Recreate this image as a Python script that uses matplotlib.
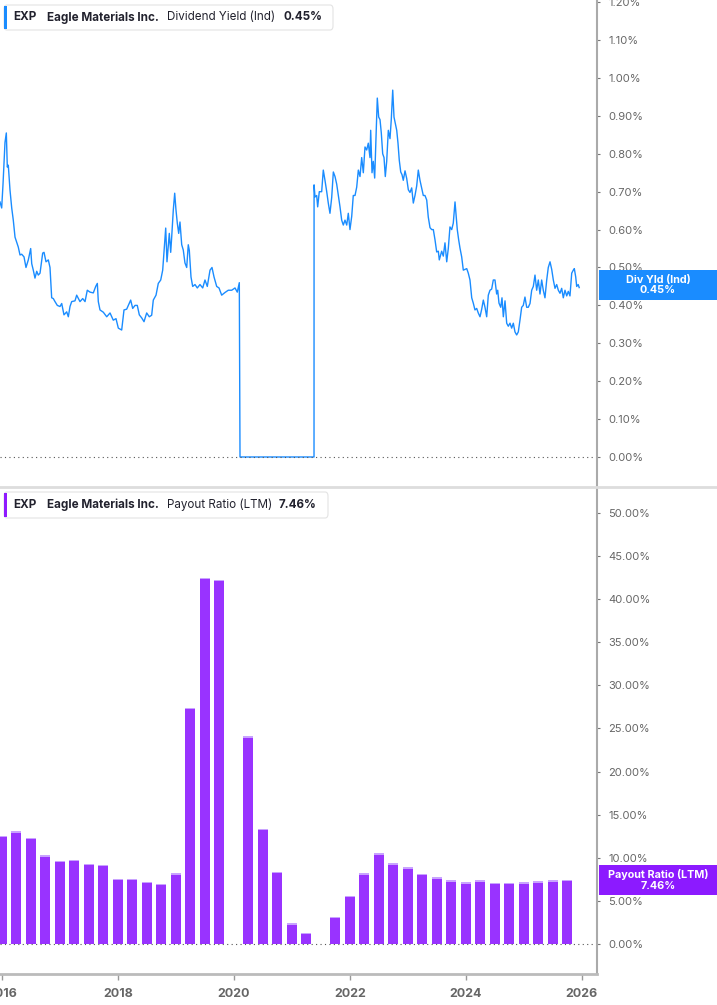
import matplotlib
matplotlib.use("Agg")
import matplotlib.pyplot as plt
from matplotlib.patches import FancyBboxPatch, Rectangle
from matplotlib.lines import Line2D
import numpy as np

plt.rcParams['font.family'] = ['Inter', 'DejaVu Sans']

# ---------------- data ----------------
dy_years = [2015.966, 2015.995, 2016.018, 2016.052, 2016.075, 2016.092, 2016.109, 2016.138, 2016.168, 2016.195,
            2016.225, 2016.254, 2016.281, 2016.311, 2016.340, 2016.380, 2016.414, 2016.454, 2016.495, 2016.513,
            2016.540, 2016.569, 2016.599, 2016.626, 2016.656, 2016.702, 2016.725, 2016.759, 2016.799, 2016.828,
            2016.857, 2016.885, 2016.914, 2016.954, 2017.000, 2017.030, 2017.069, 2017.116, 2017.144, 2017.173,
            2017.202, 2017.259, 2017.288, 2017.345, 2017.392, 2017.432, 2017.471, 2017.518, 2017.575, 2017.616,
            2017.644, 2017.661, 2017.690, 2017.747, 2017.806, 2017.863, 2017.919, 2017.966, 2018.006, 2018.064,
            2018.104, 2018.150, 2018.178, 2018.219, 2018.254, 2018.294, 2018.333, 2018.368, 2018.409, 2018.449,
            2018.495, 2018.540, 2018.581, 2018.609, 2018.656, 2018.695, 2018.737, 2018.771, 2018.799, 2018.823,
            2018.845, 2018.885, 2018.909, 2018.926, 2018.954, 2018.978, 2019.000, 2019.023, 2019.047, 2019.069,
            2019.099, 2019.126, 2019.155, 2019.185, 2019.212, 2019.230, 2019.259, 2019.288, 2019.328, 2019.368,
            2019.414, 2019.461, 2019.500, 2019.540, 2019.587, 2019.621, 2019.656, 2019.702, 2019.742, 2019.788,
            2019.845, 2019.902, 2019.961, 2020.018, 2020.057, 2020.092, 2020.104, 2021.380, 2021.381, 2021.397,
            2021.426, 2021.443, 2021.471, 2021.512, 2021.540, 2021.569, 2021.599, 2021.626, 2021.655, 2021.685,
            2021.713, 2021.742, 2021.771, 2021.799, 2021.828, 2021.857, 2021.885, 2021.914, 2021.944, 2021.971,
            2022.000, 2022.030, 2022.057, 2022.087, 2022.116, 2022.144, 2022.173, 2022.202, 2022.230, 2022.259,
            2022.288, 2022.316, 2022.345, 2022.357, 2022.380, 2022.402, 2022.426, 2022.449, 2022.471, 2022.495,
            2022.518, 2022.540, 2022.564, 2022.587, 2022.609, 2022.633, 2022.661, 2022.690, 2022.712, 2022.737,
            2022.759, 2022.781, 2022.806, 2022.828, 2022.850, 2022.875, 2022.897, 2022.919, 2022.949, 2022.978,
            2023.006, 2023.035, 2023.064, 2023.092, 2023.121, 2023.150, 2023.178, 2023.207, 2023.236, 2023.264,
            2023.293, 2023.323, 2023.350, 2023.380, 2023.409, 2023.437, 2023.466, 2023.495, 2023.523, 2023.540,
            2023.581, 2023.609, 2023.638, 2023.668, 2023.695, 2023.724, 2023.754, 2023.781, 2023.811, 2023.828,
            2023.850, 2023.874, 2023.897, 2023.926, 2023.954, 2023.983, 2024.013, 2024.040, 2024.069, 2024.099,
            2024.126, 2024.155, 2024.185, 2024.212, 2024.242, 2024.271, 2024.299, 2024.328, 2024.357, 2024.385,
            2024.414, 2024.443, 2024.471, 2024.500, 2024.529, 2024.547, 2024.569, 2024.599, 2024.621, 2024.644,
            2024.673, 2024.702, 2024.730, 2024.759, 2024.788, 2024.816, 2024.845, 2024.874, 2024.902, 2024.931,
            2024.960, 2024.988, 2025.017, 2025.047, 2025.074, 2025.104, 2025.133, 2025.161, 2025.190, 2025.219,
            2025.247, 2025.276, 2025.305, 2025.333, 2025.362, 2025.392, 2025.419, 2025.449, 2025.478, 2025.506,
            2025.535, 2025.564, 2025.592, 2025.621, 2025.650, 2025.678, 2025.707, 2025.737, 2025.764, 2025.793,
            2025.823, 2025.850, 2025.868, 2025.892, 2025.909, 2025.935, 2025.952]

dy_values = [0.673, 0.657, 0.72, 0.83, 0.855, 0.765, 0.77, 0.705, 0.657, 0.625,
             0.58, 0.567, 0.554, 0.533, 0.535, 0.528, 0.50, 0.52, 0.55, 0.51,
             0.493, 0.472, 0.49, 0.48, 0.485, 0.538, 0.54, 0.515, 0.52, 0.50,
             0.42, 0.418, 0.41, 0.40, 0.397, 0.405, 0.375, 0.383, 0.37, 0.397,
             0.41, 0.412, 0.427, 0.41, 0.418, 0.41, 0.44, 0.435, 0.433, 0.45,
             0.458, 0.41, 0.388, 0.382, 0.37, 0.38, 0.361, 0.365, 0.34, 0.335,
             0.388, 0.39, 0.40, 0.414, 0.392, 0.40, 0.40, 0.375, 0.367, 0.357,
             0.38, 0.37, 0.374, 0.414, 0.427, 0.458, 0.467, 0.493, 0.555, 0.604,
             0.515, 0.59, 0.54, 0.58, 0.652, 0.696, 0.652, 0.617, 0.59, 0.62,
             0.56, 0.546, 0.512, 0.50, 0.56, 0.545, 0.475, 0.45, 0.455, 0.446,
             0.455, 0.446, 0.467, 0.45, 0.493, 0.50, 0.475, 0.45, 0.446, 0.427,
             0.434, 0.44, 0.44, 0.446, 0.435, 0.46, 0.0, 0.0, 0.718, 0.686,
             0.69, 0.66, 0.70, 0.70, 0.757, 0.73, 0.70, 0.67, 0.643, 0.685,
             0.752, 0.74, 0.72, 0.69, 0.66, 0.625, 0.612, 0.625, 0.612, 0.643,
             0.60, 0.635, 0.69, 0.69, 0.712, 0.757, 0.74, 0.79, 0.75, 0.818,
             0.81, 0.828, 0.79, 0.862, 0.75, 0.78, 0.736, 0.845, 0.947, 0.897,
             0.89, 0.855, 0.80, 0.79, 0.74, 0.78, 0.862, 0.84, 0.89, 0.968,
             0.897, 0.88, 0.862, 0.828, 0.783, 0.752, 0.745, 0.73, 0.755, 0.735,
             0.705, 0.698, 0.71, 0.67, 0.69, 0.715, 0.757, 0.73, 0.71, 0.69,
             0.69, 0.678, 0.633, 0.605, 0.60, 0.60, 0.573, 0.541, 0.543, 0.52,
             0.543, 0.53, 0.565, 0.515, 0.55, 0.607, 0.60, 0.617, 0.673, 0.64,
             0.60, 0.573, 0.551, 0.528, 0.493, 0.495, 0.497, 0.485, 0.467, 0.42,
             0.406, 0.388, 0.392, 0.38, 0.37, 0.39, 0.414, 0.395, 0.37, 0.427,
             0.44, 0.443, 0.467, 0.467, 0.43, 0.44, 0.406, 0.395, 0.42, 0.37,
             0.412, 0.353, 0.345, 0.353, 0.34, 0.353, 0.33, 0.322, 0.33, 0.361,
             0.395, 0.40, 0.422, 0.395, 0.395, 0.405, 0.44, 0.45, 0.48, 0.44,
             0.467, 0.43, 0.467, 0.44, 0.42, 0.467, 0.50, 0.515, 0.495, 0.467,
             0.445, 0.455, 0.44, 0.432, 0.445, 0.42, 0.44, 0.425, 0.437, 0.425,
             0.485, 0.493, 0.497, 0.475, 0.45, 0.455, 0.447]

quarters = ["2016Q1", "2016Q2", "2016Q3", "2016Q4", "2017Q1", "2017Q2", "2017Q3", "2017Q4",
            "2018Q1", "2018Q2", "2018Q3", "2018Q4", "2019Q1", "2019Q2", "2019Q3", "2019Q4",
            "2020Q1", "2020Q2", "2020Q3", "2020Q4", "2021Q1", "2021Q2", "2021Q3", "2021Q4",
            "2022Q1", "2022Q2", "2022Q3", "2022Q4", "2023Q1", "2023Q2", "2023Q3", "2023Q4",
            "2024Q1", "2024Q2", "2024Q3", "2024Q4", "2025Q1", "2025Q2", "2025Q3", "2025Q4"]
payout = [12.58, 13.08, 12.35, 10.27, 9.65, 9.73, 9.31, 9.19,
          7.58, 7.58, 7.23, 6.96, 8.19, 27.4, 42.5, 42.2,
          np.nan, 24.1, 13.35, 8.35, 2.38, 1.27, np.nan, 3.12,
          5.62, 8.19, 10.5, 9.35, 8.88, 8.12, 7.73, 7.38,
          7.15, 7.38, 7.12, 7.12, 7.15, 7.27, 7.38, 7.46]

dy_ticks = [0.0, 0.1, 0.2, 0.3, 0.4, 0.5, 0.6, 0.7, 0.8, 0.9, 1.0, 1.1, 1.2]
pr_ticks = [0, 5, 10, 15, 20, 25, 30, 35, 40, 45, 50]
year_ticks = [2016, 2018, 2020, 2022, 2024, 2026]

ticker = "EXP"
company = "Eagle Materials Inc."
dy_name, dy_last = "Dividend Yield (Ind)", "0.45%"
pr_name, pr_last = "Payout Ratio (LTM)", "7.46%"

# ---------------- style ----------------
W, H = 717, 1005
BLUE = '#1a8cff'
PURPLE = '#9933ff'
PURPLE_TAG = '#8c1aff'
TXT = '#666666'

fig = plt.figure(figsize=(W / 100, H / 100), dpi=100)

def fx(px):
    return px / W

def fy(py):
    return 1 - py / H

x0, x1 = 2015.966, 2026.259

# top axes
ax1 = fig.add_axes([0, fy(487), fx(597), (487) / H])
ax1.plot(dy_years, dy_values, color=BLUE, lw=1.0)
ax1.set_xlim(x0, x1)
ax1.set_ylim(-0.0792, 1.2058)
ax1.axhline(0, color='#555555', lw=0.8, ls=(0, (1, 3)))

# bottom axes
ax2 = fig.add_axes([0, fy(974), fx(597), (974 - 489) / H])
qx_arr = np.array([int(q[:4]) + (int(q[-1]) - 1) / 4 for q in quarters])
pv = np.array(payout)
m = ~np.isnan(pv)
ax2.bar(qx_arr[m], pv[m], width=0.172, color=PURPLE, edgecolor='none')
# light top cap on bars
ax2.bar(qx_arr[m], np.full(m.sum(), 0.15), bottom=pv[m] - 0.15, width=0.172,
        color='#c9a3ff', edgecolor='none')
ax2.set_xlim(x0, x1)
ax2.set_ylim(-3.48, 52.78)
ax2.axhline(0, color='#555555', lw=0.8, ls=(0, (1, 3)))

for ax, ticks in [(ax1, dy_ticks), (ax2, pr_ticks)]:
    for s in ['left', 'top']:
        ax.spines[s].set_visible(False)
    ax.spines['right'].set_color('#aaaaaa')
    ax.spines['right'].set_linewidth(1.5)
    ax.yaxis.tick_right()
    ax.set_yticks(ticks)
    ax.set_yticklabels(["{:.2f}%".format(t) for t in ticks])
    ax.tick_params(axis='y', which='both', length=2, width=0.8, color='#777777',
                   labelsize=8, labelcolor=TXT, pad=6, direction='out')
    ax.set_facecolor('none')

ax1.spines['bottom'].set_visible(False)
ax1.set_xticks([])
ax2.spines['bottom'].set_color('#bbbbbb')
ax2.spines['bottom'].set_linewidth(2)
ax2.set_xticks(year_ticks)
ax2.set_xticklabels([str(y) for y in year_ticks])
ax2.tick_params(axis='x', length=4, width=1, color='#999999', labelsize=9,
                labelcolor=TXT, pad=6)
for lab in ax2.get_xticklabels():
    lab.set_fontweight('bold')

# separator between panels
fig.add_artist(Line2D([0, 1], [fy(487.5), fy(487.5)], color='#dddddd', lw=2))

# legend boxes
def legend_box(y_top, y_bot, x_right, color, name, last, last_x):
    box = FancyBboxPatch((fx(4), fy(y_bot)), fx(x_right - 4), (y_bot - y_top) / H,
                         boxstyle="round,pad=0,rounding_size=0.004",
                         transform=fig.transFigure, facecolor='white',
                         edgecolor='#e3e3e3', lw=0.8, zorder=5)
    fig.add_artist(box)
    fig.add_artist(Rectangle((fx(4), fy(y_bot - 1)), fx(3), (y_bot - y_top - 2) / H,
                             transform=fig.transFigure, facecolor=color,
                             edgecolor='none', zorder=6))
    yc = fy((y_top + y_bot) / 2)
    kw = dict(transform=fig.transFigure, va='center', ha='left', fontsize=8.4,
              color='#22222e', zorder=7)
    fig.text(fx(13), yc, ticker, fontweight='bold', **kw)
    fig.text(fx(47), yc, company, fontweight='bold', **kw)
    fig.text(fx(167), yc, name, **kw)
    fig.text(fx(last_x), yc, last, fontweight='bold', **kw)

legend_box(5, 30, 333, BLUE, dy_name, dy_last, 284)
legend_box(492, 518, 328, '#8f1aff', pr_name, pr_last, 279)

# right side value tags
def value_tag(y_top, y_bot, color, text):
    fig.add_artist(Rectangle((fx(599), fy(y_bot)), fx(W - 599), (y_bot - y_top) / H,
                             transform=fig.transFigure, facecolor=color,
                             edgecolor='none', zorder=6))
    fig.text(fx(658), fy((y_top + y_bot) / 2), text, transform=fig.transFigure,
             ha='center', va='center', fontsize=7.8, fontweight='bold',
             color='white', linespacing=1.05, zorder=7)

value_tag(270, 300, BLUE, "Div Yld (Ind)\n" + dy_last)
value_tag(865, 895, PURPLE_TAG, "Payout Ratio (LTM)\n" + pr_last)

fig.savefig("out.png", dpi=100)
